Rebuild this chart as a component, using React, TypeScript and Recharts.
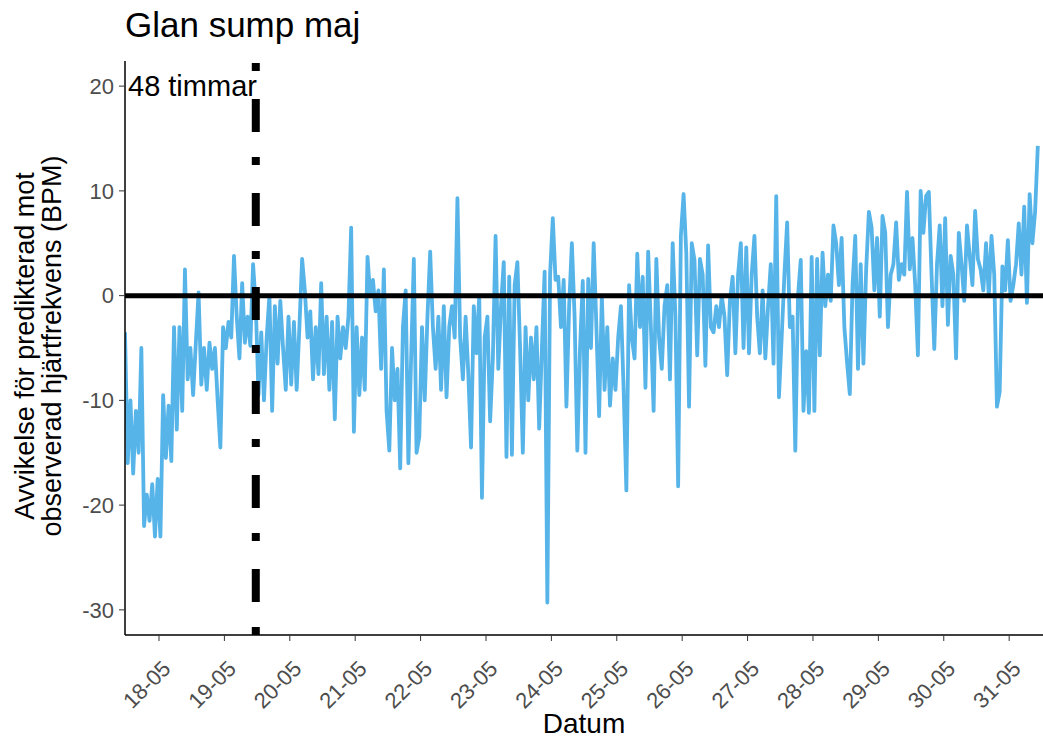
import React from "react";
import { LineChart, Line, XAxis, YAxis, ReferenceLine } from "recharts";

// avvikelse (BPM) per timme, 17-05 ~11:30 och framåt
const devA = [
  -3.5, -16, -10, -17, -11, -15, -5, -22, -19, -21.5, -18, -23,
  -17.5, -23, -9.5, -15.5, -10.5, -15.8, -3, -12.8, -3, -11, 2.5, -8,
  -5, -9.5, -4.5, 0.3, -8.5, -5, -9, -4.5, -7, -5, -10, -14.5,
  -3, -5, -2.5, -4, 3.8, -2, -6, 1.2, -4.5, -2, -4.8, 3,
  -1, -9.5, -3.5, -10, -4, 0, -11, -1, -6.5, -0.5, -5, -9,
  -2, -8.5, -2.5, -9, -3, 3.5, 0.5, -4, -1.5, -8, -3, -7.5,
  1.2, -7.5, -2, -9, -2.5, -11.8, -2, -6, -3, -5, -2, 6.5,
];
const devB = [
  -13, -3, -9.5, -4, -9, 3.7, 0, 1.5, -1.5, 0.5, -7, 2.5,
  -11, -14.8, -5, -10, -7, -16.5, -3, 0.5, -16, -6, 3.5, -15,
  -13.5, -3, -10, -2, 4.2, -3, -7, -2, -9, -1, -9.7, -3,
  -1, -4, 9.3, -4, -8, -2, -7.5, -14.5, -1, -5.5, 0, -19.3,
  -4, -2, -12, -6, 5.7, -7, -1, 3.2, -15.4, 1.8, -15.2, 1,
  3.2, -5, -15, -3, -10, -4, -8, -3, -12.7, -5, 2.3, -29.3,
  2, 7.4, 1.5, 1.8, -3, 1.5, -10.6, -1, 5, -2, -14.8, -5,
];
const devC = [
  1.4, -15, 1.6, -5, 5, -3, -11.5, 0, -9, -3, -10.5, -6,
  -9, -4, -1, -9, -18.6, 1, -4, -6, 4, -3, 1.8, -8.8,
  4.2, -3, -11, 3.5, -4, -7, -1, 1, -8, 5, -2, -18.2,
  5.7, 9.7, 4, -10.6, 5, 3.4, -5.7, 3.5, 2, -6.7, 4.8, -3,
  -3.5, -1, -3, 0, -2, -7.6, -0.5, 1.8, -5.5, 2, 5, -5,
  4.6, -5.5, 2, 5.7, -2, -5.5, 0.5, -6, -1, 3, -6.5, 9.5,
  -9.7, -4, 2, 7, -3, -2, -14.8, 0, 3.4, -11, -5.3, -11.2,
];
const devD = [
  3.7, -11, 3.5, -5.7, 4.1, -1, 2, -0.5, 6.7, 5, 1, 5.5,
  -3, -6.4, -9.4, 1, 5.7, -7, 3, -6.5, 2.5, 8, 6.5, 0.5,
  5.5, -2, 7.6, 6, -3, 2, 3, 7, 1.5, 3, 2, 9.9,
  2.5, 5.5, 1, -5.7, 10, 6, 9.5, 9.9, 2, -5.1, 3, 6.7,
  -1, 7.4, -2.8, 3.8, 2, -6, 6, 3, -0.5, 6.7, 3.8, 1,
  8.1, 3.5, 2.5, 0.5, 5, 0, 5.7, 2, -10.6, -9.2, 2.8, 0.5,
  5.3, -0.5, 1, 3, 6.9, 2, 8.5, -0.7, 9.7, 5, 8, 14.3,
];

const dateLabels = [
  "18-05", "19-05", "20-05", "21-05", "22-05", "23-05", "24-05",
  "25-05", "26-05", "27-05", "28-05", "29-05", "30-05", "31-05",
];
const dateHours = dateLabels.map((_, i) => 12.48 + i * 24);
const yTicks = [-30, -20, -10, 0, 10, 20];
const markerHour = 48;

const data = [...devA, ...devB, ...devC, ...devD].map((dev, h) => ({ h, dev }));

const font = "'Liberation Sans', Arial, sans-serif";

function DateTick({ x, y, payload }: any) {
  const i = Math.round((payload.value - 12.48) / 24);
  const ax = x + 13;
  const ay = y + 27;
  return (
    <text
      x={ax}
      y={ay}
      transform={`rotate(-45, ${ax}, ${ay})`}
      textAnchor="end"
      fontSize={22}
      fill="#4d4d4d"
      fontFamily={font}
    >
      {dateLabels[i]}
    </text>
  );
}

export default function App() {
  return (
    <div style={{ position: "absolute", left: 0, top: 0, width: 1043, height: 742, background: "#fff", fontFamily: font }}>
      <LineChart width={1043} height={742} data={data} margin={{ top: 61, right: 0, left: 0, bottom: 0 }}>
        <XAxis
          type="number"
          dataKey="h"
          domain={[0, 336.9]}
          ticks={dateHours}
          interval={0}
          tick={<DateTick />}
          height={107}
          tickSize={6}
          axisLine={{ stroke: "#000", strokeWidth: 1.5 }}
          tickLine={{ stroke: "#333" }}
          allowDataOverflow
        />
        <YAxis
          type="number"
          domain={[-32.4, 22.4]}
          ticks={yTicks}
          interval={0}
          width={125}
          tickSize={6}
          tickMargin={5}
          axisLine={{ stroke: "#000", strokeWidth: 1.5 }}
          tickLine={{ stroke: "#333" }}
          tick={{ fontSize: 22, fill: "#4d4d4d", fontFamily: font }}
          allowDataOverflow
        />
        <Line
          type="linear"
          dataKey="dev"
          stroke="#56B4E9"
          strokeWidth={3.8}
          strokeLinejoin="round"
          dot={false}
          isAnimationActive={false}
        />
        <ReferenceLine y={0} stroke="#000" strokeWidth={5} />
        <ReferenceLine x={markerHour} stroke="#000" strokeWidth={8} strokeDasharray="8 25 33 28" />
      </LineChart>
      <div style={{ position: "absolute", left: 125, top: 5, fontSize: 35, color: "#000", whiteSpace: "nowrap" }}>
        Glan sump maj
      </div>
      <div style={{ position: "absolute", left: 128, top: 70, fontSize: 29, color: "#000", whiteSpace: "nowrap" }}>
        48 timmar
      </div>
      <div style={{ position: "absolute", left: 584, top: 708, transform: "translateX(-50%)", fontSize: 28, color: "#000", whiteSpace: "nowrap" }}>
        Datum
      </div>
      <div
        style={{
          position: "absolute",
          left: 39,
          top: 346,
          transform: "translate(-50%, -50%) rotate(-90deg)",
          fontSize: 27,
          lineHeight: "27px",
          textAlign: "center",
          color: "#000",
          whiteSpace: "nowrap",
        }}
      >
        Avvikelse för predikterad mot
        <br />
        observerad hjärtfrekvens (BPM)
      </div>
    </div>
  );
}
